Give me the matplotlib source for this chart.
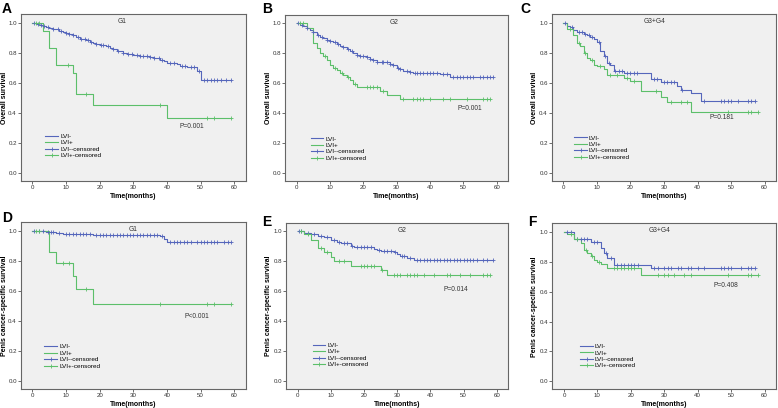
import numpy as np
import matplotlib
matplotlib.use("Agg")
import matplotlib.pyplot as plt
from matplotlib.lines import Line2D

plt.rcParams['font.family'] = ['Liberation Sans', 'DejaVu Sans']

# ---------------- data ----------------
panel_letters = ["A", "B", "C", "D", "E", "F"]
group_titles = ["G1", "G2", "G3+G4", "G1", "G2", "G3+G4"]
ylabels = ["Overall survival"] * 3 + ["Penis cancer-specific survival"] * 3
p_texts = ["P=0.001", "P=0.001", "P=0.181", "P<0.001", "P=0.014", "P=0.408"]
legend_labels = ["LVI-", "LVI+", "LVI--censored", "LVI+-censored"]
x_ticks = [0, 10, 20, 30, 40, 50, 60]
y_ticks = [0.0, 0.2, 0.4, 0.6, 0.8, 1.0]

# A: G1 overall survival
A_neg_t = [1, 2, 3, 4, 5, 6, 7, 8, 9, 10, 11, 12, 13, 14, 15, 16, 17, 18, 19, 20, 22, 23, 24, 25, 26, 27, 28, 30, 32, 35, 36, 38, 39, 40, 43, 44, 46, 49, 50]
A_neg_s = [0.99, 0.985, 0.98, 0.97, 0.965, 0.96, 0.955, 0.945, 0.94, 0.93, 0.925, 0.915, 0.905, 0.895, 0.89, 0.885, 0.875, 0.865, 0.86, 0.85, 0.845, 0.835, 0.825, 0.815, 0.81, 0.80, 0.795, 0.785, 0.78, 0.775, 0.765, 0.755, 0.745, 0.735, 0.725, 0.715, 0.705, 0.68, 0.62]
A_neg_c = [0.5, 1.5, 2.5, 3.5, 4.5, 6, 7.5, 8.5, 10, 11, 12, 13.5, 14.5, 15.5, 16.5, 17.5, 19, 20.5, 21, 22.5, 24, 25.5, 27, 28.5, 29.5, 31, 32, 33, 34, 35, 36, 37.5, 38.5, 41, 42, 44.5, 45.5, 47, 48, 49.5, 51, 52, 53, 54, 55, 56, 57.5, 59]
A_pos_t = [3, 5, 7, 12, 13, 18, 40]
A_pos_s = [0.945, 0.834, 0.722, 0.663, 0.528, 0.455, 0.364]
A_pos_c = [1, 2, 10.5, 16, 38, 52, 54, 59]

# B: G2 overall survival
B_neg_t = [1, 2, 3, 4, 5, 6, 7, 8, 9, 10, 11, 12, 13, 14, 15, 16, 17, 18, 19, 21, 22, 23, 24, 25, 28, 29, 30, 31, 32, 34, 35, 43, 46]
B_neg_s = [0.99, 0.98, 0.97, 0.955, 0.94, 0.925, 0.91, 0.90, 0.89, 0.885, 0.875, 0.86, 0.85, 0.84, 0.83, 0.815, 0.80, 0.79, 0.78, 0.775, 0.765, 0.755, 0.745, 0.74, 0.73, 0.72, 0.705, 0.695, 0.685, 0.675, 0.67, 0.66, 0.645]
B_neg_c = [0.5, 1.5, 3, 5, 6.5, 7.5, 9, 10, 11.5, 12.5, 14, 15.5, 16.5, 18, 19, 20, 21, 22, 23, 24, 25.5, 26, 27, 28, 29, 30.5, 31, 33, 34, 35.5, 36, 37, 38, 39, 40, 41, 42, 44, 45, 47, 48, 49, 50, 51, 52, 53, 55, 56, 57, 58, 59]
B_pos_t = [3, 5, 6, 7, 8, 9, 10, 11, 12, 13, 14, 15, 16, 17, 18, 25, 27, 31]
B_pos_s = [0.97, 0.87, 0.835, 0.80, 0.78, 0.755, 0.725, 0.705, 0.69, 0.67, 0.655, 0.64, 0.62, 0.595, 0.572, 0.548, 0.523, 0.496]
B_pos_c = [1, 2, 8.5, 11.5, 13.5, 15.5, 17.5, 21, 22, 23, 24, 26, 32, 35, 36, 37, 38, 40, 44, 46, 51, 56, 57, 58]

# C: G3+G4 overall survival
C_neg_t = [1, 2, 3, 4, 6, 7, 8, 9, 10, 11, 12, 13, 14, 15, 18, 26, 29, 34, 35, 38, 41]
C_neg_s = [0.98, 0.97, 0.95, 0.935, 0.925, 0.915, 0.905, 0.89, 0.875, 0.81, 0.78, 0.73, 0.72, 0.678, 0.665, 0.627, 0.607, 0.58, 0.552, 0.535, 0.48]
C_neg_c = [0.5, 2.5, 4.5, 5.5, 6.5, 7.5, 8.5, 10.5, 12.5, 13.5, 15.5, 16.5, 17.5, 19, 20, 21, 22, 27, 28, 30, 31, 32, 33, 35.5, 42, 47, 48, 49, 50, 52, 55, 56, 57]
C_pos_t = [1, 3, 4, 5, 6, 7, 8, 9, 10, 12, 13, 18, 20, 23, 29, 31, 38]
C_pos_s = [0.96, 0.92, 0.862, 0.845, 0.80, 0.765, 0.75, 0.72, 0.71, 0.69, 0.655, 0.63, 0.61, 0.547, 0.508, 0.475, 0.407]
C_pos_c = [2, 4.5, 6.5, 8.5, 11, 14, 16, 19, 21, 27.5, 32, 35, 37, 49, 55, 56, 58]

# D: G1 cancer-specific survival
D_neg_t = [4, 7, 9, 18, 38, 39, 40]
D_neg_s = [0.995, 0.99, 0.982, 0.976, 0.965, 0.95, 0.93]
D_neg_c = [0.5, 2, 3, 4.5, 5.5, 6, 8, 10, 11, 12, 13, 14, 15, 16, 17, 19, 20, 21, 22, 23, 24, 25, 26, 27, 28, 29, 30, 31, 32, 33, 34, 35, 36, 37, 38.5, 41, 42, 43, 44, 45, 46, 47, 49, 50, 51, 52, 53, 54, 55, 57, 58, 59]
D_pos_t = [5, 7, 12, 13, 18]
D_pos_s = [0.858, 0.785, 0.701, 0.613, 0.513]
D_pos_c = [1, 2, 9, 11, 16, 38, 52, 54, 59]

# E: G2 cancer-specific survival
E_neg_t = [2, 4, 6, 8, 10, 12, 13, 16, 17, 23, 24, 25, 29, 30, 31, 33, 35]
E_neg_s = [0.99, 0.98, 0.972, 0.96, 0.945, 0.932, 0.922, 0.905, 0.896, 0.885, 0.877, 0.87, 0.86, 0.848, 0.834, 0.824, 0.812]
E_neg_c = [0.5, 1, 3, 5, 7, 9, 11, 12.5, 14, 15, 16.5, 18, 19, 20, 21, 22, 24.5, 26, 27, 28, 29.5, 31.5, 32, 34, 36, 37, 38, 39, 40, 41, 42, 43, 44, 45, 46, 47, 48, 49, 50, 51, 52, 53, 54, 56, 57, 59]
E_pos_t = [2, 4, 6, 8, 10, 11, 16, 25, 27]
E_pos_s = [0.98, 0.94, 0.89, 0.865, 0.83, 0.80, 0.77, 0.74, 0.706]
E_pos_c = [1, 3, 7, 9, 12.5, 14, 19, 20, 21, 22, 23, 25.5, 29, 30, 31, 33, 34, 35, 36, 38, 41, 45, 46, 49, 52, 56, 57, 58]

# F: G3+G4 cancer-specific survival
F_neg_t = [3, 8, 11, 12, 13, 15, 26]
F_neg_s = [0.95, 0.936, 0.89, 0.856, 0.825, 0.78, 0.756]
F_neg_c = [1, 2, 4, 5, 6, 7, 9, 10, 12.5, 14, 16, 17, 18, 19, 20, 21, 22, 27, 28, 30, 31, 32, 34, 35, 37, 38, 40, 42, 47, 48, 49, 50, 53, 55, 56, 57]
F_pos_t = [1, 3, 5, 6, 7, 8, 9, 10, 11, 13, 23]
F_pos_s = [0.985, 0.955, 0.925, 0.88, 0.86, 0.837, 0.81, 0.80, 0.785, 0.757, 0.711]
F_pos_c = [2, 4, 6.5, 8.5, 10.5, 15, 16, 17, 18, 19, 20, 21, 28, 30, 31, 33, 36, 38, 49, 55, 56, 58]

panels = [
    (A_neg_t, A_neg_s, A_neg_c, A_pos_t, A_pos_s, A_pos_c),
    (B_neg_t, B_neg_s, B_neg_c, B_pos_t, B_pos_s, B_pos_c),
    (C_neg_t, C_neg_s, C_neg_c, C_pos_t, C_pos_s, C_pos_c),
    (D_neg_t, D_neg_s, D_neg_c, D_pos_t, D_pos_s, D_pos_c),
    (E_neg_t, E_neg_s, E_neg_c, E_pos_t, E_pos_s, E_pos_c),
    (F_neg_t, F_neg_s, F_neg_c, F_pos_t, F_pos_s, F_pos_c),
]

# ---------------- layout (pixels) ----------------
W, H = 778, 408
axes_px = [  # left, right, top, bottom
    (20.7, 246.0, 14.0, 181.0),
    (285.0, 508.3, 14.7, 181.0),
    (551.7, 776.3, 14.0, 181.0),
    (20.7, 246.0, 222.3, 389.0),
    (286.0, 508.3, 222.7, 389.0),
    (552.3, 776.3, 223.3, 389.3),
]
letter_px = [(2, 2), (262, 2), (520, 2), (2, 211), (262, 215), (528, 215)]
ylabel_px = [8.2, 271.5, 537.5, 8.2, 272.0, 538.0]   # right edge of rotated ylabel
title_xfrac = [0.45, 0.49, 0.46, 0.50, 0.52, 0.48]
p_pos = [(47.3, 0.31), (51.9, 0.433), (47.1, 0.37), (48.8, 0.427), (47.7, 0.613), (48.3, 0.642)]
leg_pos = [(0.11, 0.285), (0.115, 0.27), (0.10, 0.275), (0.105, 0.27), (0.12, 0.28), (0.125, 0.275)]

BLUE = '#5566bb'
GREEN = '#5cbf6a'
BG = '#f0f0f0'

fig = plt.figure(figsize=(W / 100, H / 100), dpi=100)


def km(ax, times, surv, cens, color):
    t_end = max(max(cens), max(times))
    xs = [0] + list(times) + [t_end]
    ys = [1.0] + list(surv) + [surv[-1]]
    ax.step(xs, ys, where='post', color=color, lw=0.8, zorder=3)
    tt = np.array(times)
    ss = np.array([1.0] + list(surv))
    idx = np.searchsorted(tt, np.array(cens), side='right')
    ax.plot(cens, ss[idx], linestyle='none', marker='+', color=color,
            markersize=3.2, markeredgewidth=0.6, zorder=4)


for i, (l, r, t, b) in enumerate(axes_px):
    ax = fig.add_axes([l / W, 1 - b / H, (r - l) / W, (b - t) / H])
    ax.set_facecolor(BG)
    nt, ns, nc, pt, ps, pc = panels[i]
    km(ax, nt, ns, nc, BLUE)
    km(ax, pt, ps, pc, GREEN)
    ax.set_xlim(-3.5, 63.5)
    ax.set_ylim(-0.053, 1.058)
    ax.set_xticks(x_ticks)
    ax.set_yticks(y_ticks)
    ax.set_yticklabels([f"{v:.1f}" for v in y_ticks])
    ax.tick_params(labelsize=4.4, length=2.0, width=0.5, pad=0.8, colors='#333333')
    for s in ax.spines.values():
        s.set_color('#666666')
        s.set_linewidth(0.8)
    ax.set_xlabel("Time(months)", fontsize=5, fontweight='bold', labelpad=2)
    ax.set_ylabel(ylabels[i], fontsize=5, fontweight='bold')
    ax.yaxis.set_label_coords((ylabel_px[i] - l) / (r - l), 0.5)
    ax.text(title_xfrac[i], 0.955, group_titles[i], transform=ax.transAxes,
            fontsize=4.8, ha='center', va='center', color='#333333')
    ax.text(p_pos[i][0], p_pos[i][1], p_texts[i], fontsize=4.8,
            ha='center', va='center', color='#333333')
    handles = [
        Line2D([], [], color=BLUE, lw=0.8),
        Line2D([], [], color=GREEN, lw=0.8),
        Line2D([], [], color=BLUE, lw=0.8, marker='+', markersize=3.5, markeredgewidth=0.6),
        Line2D([], [], color=GREEN, lw=0.8, marker='+', markersize=3.5, markeredgewidth=0.6),
    ]
    ax.legend(handles, legend_labels, loc='upper left', bbox_to_anchor=leg_pos[i],
              frameon=False, fontsize=4.6, handlelength=2.0, handletextpad=0.3,
              labelspacing=0.15, borderpad=0, borderaxespad=0)
    lx, ly = letter_px[i]
    fig.text(lx / W, 1 - ly / H, panel_letters[i], fontsize=10, fontweight='bold',
             ha='left', va='top')

fig.savefig("out.png", dpi=100)
